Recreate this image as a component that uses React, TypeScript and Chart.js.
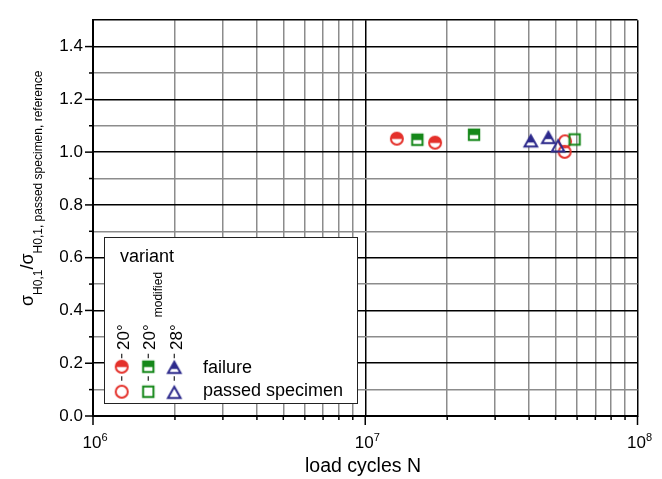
import React, { useEffect, useRef } from 'react';
import { Chart, registerables } from 'chart.js';

Chart.register(...registerables);

const FONT = '"Liberation Sans", Arial, Helvetica, sans-serif';
const RED = '#e4312b';
const GREEN = '#16881a';
const BLUE = '#2d2a8c';

// ---- data (load cycles N, sigma ratio) ----
const fail20N = [1.306e7, 1.805e7];
const fail20V = [1.051, 1.036];
const fail20modN = [1.554e7, 2.51e7];
const fail20modV = [1.047, 1.066];
const fail28N = [4.055e7, 4.705e7];
const fail28V = [1.045, 1.058];
const pass20N = [5.418e7, 5.4e7];
const pass20V = [1.041, 1.001];
const pass20modN = [5.875e7];
const pass20modV = [1.048];
const pass28N = [5.108e7];
const pass28V = [1.026];

// ---- axis ticks ----
const xDecades = [6, 7, 8];
const xMinorMultipliers = [2, 3, 4, 5, 6, 7, 8, 9];
const yTickValues = [0, 0.1, 0.2, 0.3, 0.4, 0.5, 0.6, 0.7, 0.8, 0.9, 1.0, 1.1, 1.2, 1.3, 1.4, 1.5];
const yMajorLabels = ['0.0', '0.2', '0.4', '0.6', '0.8', '1.0', '1.2', '1.4'];

const legendTitle = 'variant';
const legendVariants = ['20°', '20°', '28°'];
const legendVariantSub = ['', 'modified', ''];
const legendRows = ['failure', 'passed specimen'];
const xTitle = 'load cycles N';

const xTickValues: number[] = [];
xDecades.forEach((d, i) => {
  xTickValues.push(Math.pow(10, d));
  if (i < xDecades.length - 1) xMinorMultipliers.forEach((m) => xTickValues.push(m * Math.pow(10, d)));
});
const isMajorX = (v: number) => Math.abs(Math.log10(v) - Math.round(Math.log10(v))) < 1e-9;
const isMajorY = (v: number) => Math.round(v * 10) % 2 === 0;
const yLabelFor = (v: number) => (isMajorY(v) ? yMajorLabels[Math.round(v * 5)] ?? '' : '');

type Shape = 'circle' | 'square' | 'triangle';

function makeMarker(shape: Shape, color: string, half: boolean): HTMLCanvasElement {
  const S = 18;
  const c = document.createElement('canvas');
  c.width = S;
  c.height = S;
  const g = c.getContext('2d')!;
  const cx = S / 2;
  const cy = S / 2;
  const tw = 12.6;
  const th = 11.2;
  const path = () => {
    g.beginPath();
    if (shape === 'circle') g.arc(cx, cy, 6.0, 0, Math.PI * 2);
    else if (shape === 'square') g.rect(cx - 5.2, cy - 5.2, 10.4, 10.4);
    else {
      g.moveTo(cx, cy - th / 2 + 0.6);
      g.lineTo(cx + tw / 2, cy + th / 2 + 0.6);
      g.lineTo(cx - tw / 2, cy + th / 2 + 0.6);
      g.closePath();
    }
  };
  if (half) {
    path();
    g.fillStyle = '#fff';
    g.fill();
    g.save();
    path();
    g.clip();
    g.fillStyle = color;
    const cut = shape === 'triangle' ? cy + th * 0.2 : cy + 0.3;
    g.fillRect(0, 0, S, cut);
    g.restore();
  }
  path();
  g.lineJoin = 'miter';
  g.strokeStyle = color;
  g.lineWidth = 2;
  g.stroke();
  return c;
}

const toPts = (xs: number[], ys: number[]) => xs.map((x, i) => ({ x, y: ys[i] }));

export default function App() {
  const ref = useRef<HTMLCanvasElement | null>(null);

  useEffect(() => {
    if (!ref.current) return;
    const m = {
      f20: makeMarker('circle', RED, true),
      f20m: makeMarker('square', GREEN, true),
      f28: makeMarker('triangle', BLUE, true),
      p20: makeMarker('circle', RED, false),
      p20m: makeMarker('square', GREEN, false),
      p28: makeMarker('triangle', BLUE, false),
    };

    const decor = {
      id: 'decor',
      afterDraw(chart: any) {
        const { ctx, chartArea: a, scales } = chart;
        const xs = scales.x;
        const ys = scales.y;
        ctx.save();
        // tick marks
        ctx.strokeStyle = '#000';
        ctx.lineWidth = 1.5;
        yTickValues.forEach((v) => {
          if (v >= 1.5) return;
          const p = ys.getPixelForValue(v);
          const len = isMajorY(v) ? 8 : 4;
          ctx.beginPath();
          ctx.moveTo(a.left - len, p);
          ctx.lineTo(a.left, p);
          ctx.stroke();
        });
        xTickValues.forEach((v) => {
          const p = xs.getPixelForValue(v);
          const len = isMajorX(v) ? 9 : 4;
          ctx.beginPath();
          ctx.moveTo(p, a.bottom);
          ctx.lineTo(p, a.bottom + len);
          ctx.stroke();
        });
        // x tick labels 10^n
        ctx.fillStyle = '#000';
        ctx.textBaseline = 'alphabetic';
        ctx.textAlign = 'left';
        xDecades.forEach((d) => {
          const p = xs.getPixelForValue(Math.pow(10, d));
          ctx.font = `17px ${FONT}`;
          const w1 = ctx.measureText('10').width;
          const left = p - 1 - w1 / 2;
          ctx.fillText('10', left, 448);
          ctx.font = `11px ${FONT}`;
          ctx.fillText(String(d), left + w1, 441);
        });
        // x title
        ctx.font = `19.5px ${FONT}`;
        ctx.textAlign = 'center';
        ctx.fillText(xTitle, 363, 472);
        // y title
        ctx.save();
        ctx.translate(33, 306);
        ctx.rotate(-Math.PI / 2);
        ctx.textAlign = 'left';
        const parts = [
          { t: 'σ', f: 18, dy: 0 },
          { t: 'H0,1', f: 12, dy: 8.5 },
          { t: '/', f: 18, dy: 0 },
          { t: 'σ', f: 18, dy: 0 },
          { t: 'H0,1, passed specimen, reference', f: 12, dy: 8.5 },
        ];
        let pos = 0;
        parts.forEach((pt) => {
          ctx.font = `${pt.f}px ${FONT}`;
          ctx.fillText(pt.t, pos, pt.dy);
          pos += ctx.measureText(pt.t).width;
        });
        ctx.restore();

        // legend box
        const L = 104, T = 237, R = 358, B = 404;
        ctx.fillStyle = '#fff';
        ctx.fillRect(L, T, R - L, B - T);
        ctx.strokeStyle = '#222';
        ctx.lineWidth = 1;
        ctx.strokeRect(L + 0.5, T + 0.5, R - L - 1, B - T - 1);
        ctx.fillStyle = '#000';
        ctx.font = `18px ${FONT}`;
        ctx.textAlign = 'left';
        ctx.fillText(legendTitle, 120, 262);
        ctx.fillText(legendRows[0], 203, 373);
        ctx.fillText(legendRows[1], 203, 396);
        const cols = [121.7, 148.3, 174.3];
        const baseX = [128.5, 155, 181.5];
        const rowY = [366.7, 391.7];
        const failM = [m.f20, m.f20m, m.f28];
        const passM = [m.p20, m.p20m, m.p28];
        cols.forEach((cx, i) => {
          ctx.save();
          ctx.translate(baseX[i], 350);
          ctx.rotate(-Math.PI / 2);
          ctx.font = `17px ${FONT}`;
          ctx.fillText(legendVariants[i], 0, 0);
          const w = ctx.measureText(legendVariants[i]).width;
          if (legendVariantSub[i]) {
            ctx.font = `12px ${FONT}`;
            ctx.fillText(legendVariantSub[i], w + 7, 7);
          }
          ctx.restore();
          ctx.strokeStyle = '#333';
          ctx.lineWidth = 1.3;
          [356, 378.5].forEach((yy) => {
            ctx.beginPath();
            ctx.moveTo(cx, yy - 2.3);
            ctx.lineTo(cx, yy + 2.3);
            ctx.stroke();
          });
          ctx.drawImage(failM[i], cx - 9, rowY[0] - 9);
          ctx.drawImage(passM[i], cx - 9, rowY[1] - 9);
        });
        ctx.restore();
      },
    };

    const gridColorX = (c: any) => (c.tick && isMajorX(c.tick.value) ? '#000' : '#8c8c8c');
    const gridColorY = (c: any) =>
      c.tick && (isMajorY(c.tick.value) || c.tick.value >= 1.5) ? '#000' : '#8c8c8c';

    const chart = new Chart(ref.current, {
      type: 'scatter',
      data: {
        datasets: [
          { label: 'passed 20° modified', data: toPts(pass20modN, pass20modV), pointStyle: m.p20m as any },
          { label: 'passed 28°', data: toPts(pass28N, pass28V), pointStyle: m.p28 as any },
          { label: 'passed 20°', data: toPts(pass20N, pass20V), pointStyle: m.p20 as any },
          { label: 'failure 28°', data: toPts(fail28N, fail28V), pointStyle: m.f28 as any },
          { label: 'failure 20° modified', data: toPts(fail20modN, fail20modV), pointStyle: m.f20m as any },
          { label: 'failure 20°', data: toPts(fail20N, fail20V), pointStyle: m.f20 as any },
        ],
      },
      options: {
        animation: false,
        responsive: false,
        maintainAspectRatio: false,
        events: [],
        layout: { padding: { left: 0, top: 12.5, right: 24.5, bottom: 0 } },
        elements: { point: { radius: 7 } },
        plugins: { legend: { display: false }, tooltip: { enabled: false } },
        scales: {
          x: {
            type: 'logarithmic',
            min: 1e6,
            max: 1e8,
            afterBuildTicks: (s: any) => {
              s.ticks = xTickValues.map((v) => ({ value: v, major: isMajorX(v) }));
            },
            afterFit: (s: any) => {
              s.height = 63;
            },
            ticks: { display: false },
            grid: { color: gridColorX, lineWidth: 1.5, drawTicks: false },
            border: { display: true, color: '#000', width: 2 },
          },
          y: {
            type: 'linear',
            min: 0,
            max: 1.5,
            afterBuildTicks: (s: any) => {
              s.ticks = yTickValues.map((v) => ({ value: v }));
            },
            afterFit: (s: any) => {
              s.width = 93;
            },
            ticks: {
              autoSkip: false,
              padding: 10,
              color: '#000',
              font: { family: FONT, size: 17 },
              callback: (v: any) => yLabelFor(Number(v)),
            },
            grid: { color: gridColorY, lineWidth: 1.5, drawTicks: false },
            border: { display: true, color: '#000', width: 2 },
          },
        },
      },
      plugins: [decor],
    } as any);

    return () => chart.destroy();
  }, []);

  return (
    <div style={{ position: 'fixed', left: 0, top: 0, width: 662, height: 479, background: '#fff' }}>
      <canvas ref={ref} width={662} height={479} style={{ width: 662, height: 479, display: 'block' }} />
    </div>
  );
}
